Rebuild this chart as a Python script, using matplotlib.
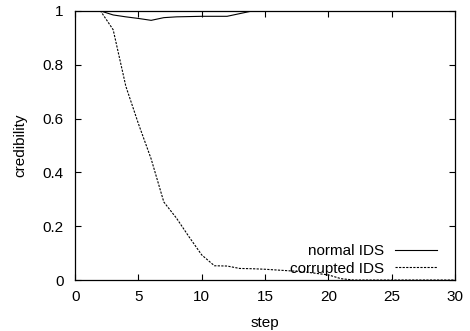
import matplotlib
matplotlib.use("Agg")
import matplotlib.pyplot as plt

plt.rcParams['font.family'] = ['Liberation Sans', 'DejaVu Sans']

steps = list(range(0, 31))
normal_ids = [1.0, 1.0, 1.0, 0.985, 0.978, 0.972, 0.965, 0.975, 0.978, 0.979, 0.98, 0.98, 0.98, 0.99, 1.0,
              1.0, 1.0, 1.0, 1.0, 1.0, 1.0, 1.0, 1.0, 1.0, 1.0, 1.0, 1.0, 1.0, 1.0, 1.0, 1.0]
corrupted_ids = [1.0, 1.0, 1.0, 0.93, 0.72, 0.58, 0.45, 0.29, 0.23, 0.16, 0.093, 0.053, 0.052, 0.043, 0.042,
                 0.04, 0.037, 0.034, 0.031, 0.025, 0.019, 0.005, 0.0, 0.0, 0.0, 0.0, 0.0, 0.0, 0.0, 0.0, 0.0]
x_ticks = [0, 5, 10, 15, 20, 25, 30]
y_ticks = [0, 0.2, 0.4, 0.6, 0.8, 1]
y_labels = ['0', '0.2', '0.4', '0.6', '0.8', '1']

fs = 11
fig = plt.figure(figsize=(4.7, 3.31), dpi=100)
ax = fig.add_axes([0.16, 0.154, 0.808, 0.813])
ax.plot(steps, normal_ids, color='black', lw=0.8, label='normal IDS')
ax.plot(steps, corrupted_ids, color='black', lw=0.8, ls=(0, (2, 1.2)), label='corrupted IDS')
ax.set_xlim(0, 30)
ax.set_ylim(0, 1)
ax.set_xticks(x_ticks)
ax.set_yticks(y_ticks)
ax.set_yticklabels(y_labels)
ax.tick_params(direction='in', top=True, right=True, labelsize=fs, length=4, width=0.8)
ax.tick_params(axis='x', pad=7.5)
ax.tick_params(axis='y', pad=8.5)
for s in ax.spines.values():
    s.set_linewidth(0.9)
ax.set_xlabel('step', fontsize=fs, labelpad=8)
ax.set_ylabel('credibility', fontsize=fs, labelpad=11)
leg = ax.legend(loc='lower right', bbox_to_anchor=(0.98, -0.023), frameon=False, fontsize=fs,
                markerfirst=False, handlelength=2.75, handletextpad=0.7, labelspacing=0.2,
                borderpad=0.2)
for t in leg.get_texts():
    t.set_ha('right')
fig.savefig('out.png', dpi=100)
